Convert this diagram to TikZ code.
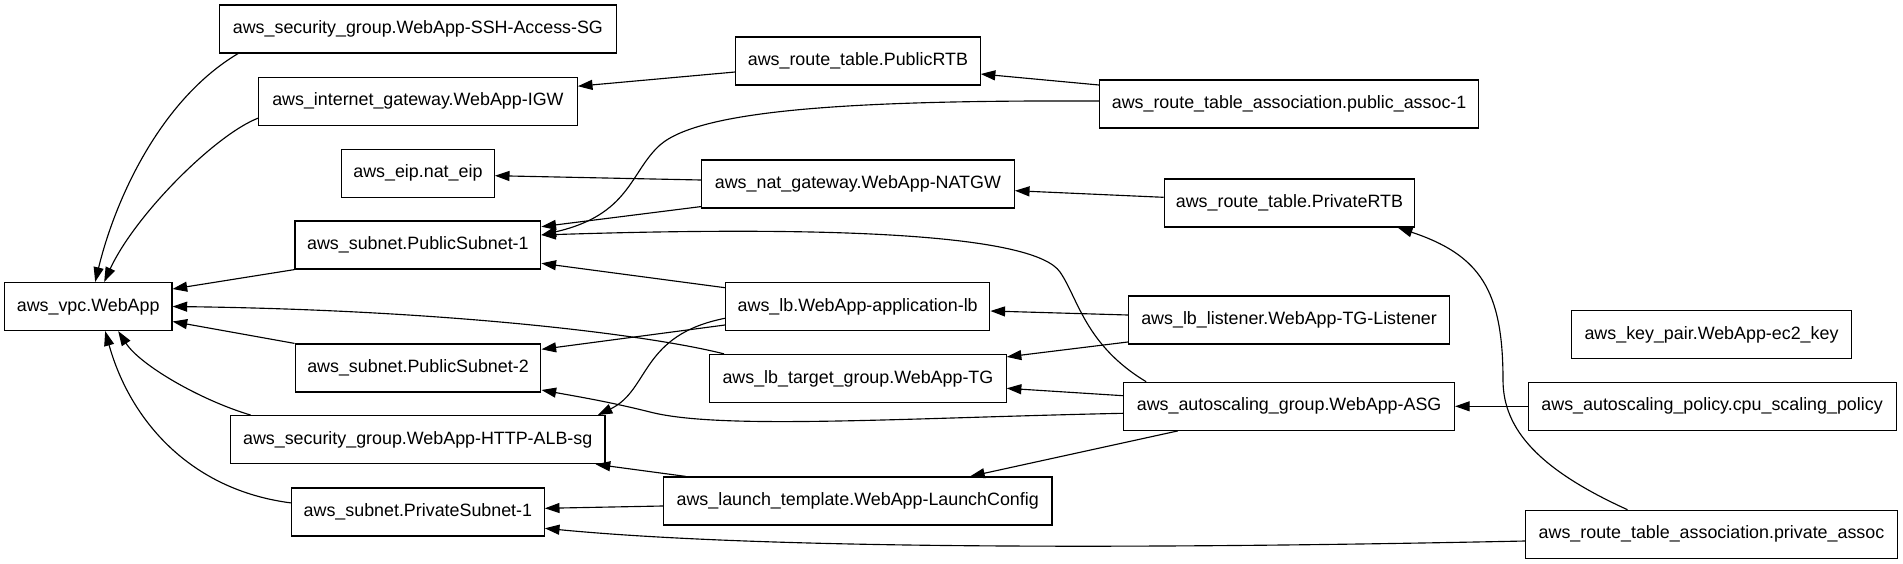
\documentclass[tikz,border=0pt]{standalone}
\usepackage{fontspec}
\setmainfont{Liberation Sans}
\usetikzlibrary{arrows.meta}

\begin{document}
\begin{tikzpicture}[x=0.75pt,y=-0.75pt,>={Triangle[length=11pt,width=7.5pt]},
  res/.style={draw,line width=0.9pt,minimum height=36pt,inner sep=0pt,font=\fontsize{13.4}{16}\selectfont},
  dep/.style={->,line width=0.85pt}]
\useasboundingbox (0,0) rectangle (1903,564);
\node (vpc) [res,minimum width=125.6pt] at (88.2,306.5) {aws\_vpc.WebApp};
\node (sshsg) [res,minimum width=297.4pt] at (417.9,29) {aws\_security\_group.WebApp-SSH-Access-SG};
\node (igw) [res,minimum width=239pt] at (417.9,101.2) {aws\_internet\_gateway.WebApp-IGW};
\node (eip) [res,minimum width=114.5pt] at (417.9,173.3) {aws\_eip.nat\_eip};
\node (pub1) [res,minimum width=184.3pt] at (417.9,245) {aws\_subnet.PublicSubnet-1};
\node (pub2) [res,minimum width=184.3pt] at (418,368) {aws\_subnet.PublicSubnet-2};
\node (albsg) [res,minimum width=281pt] at (417.7,439.7) {aws\_security\_group.WebApp-HTTP-ALB-sg};
\node (priv1) [res,minimum width=189.5pt] at (417.9,511.9) {aws\_subnet.PrivateSubnet-1};
\node (pubrtb) [res,minimum width=183.3pt] at (857.9,61) {aws\_route\_table.PublicRTB};
\node (natgw) [res,minimum width=234.6pt] at (857.9,184) {aws\_nat\_gateway.WebApp-NATGW};
\node (applb) [res,minimum width=198.2pt] at (857.7,306.5) {aws\_lb.WebApp-application-lb};
\node (tg) [res,minimum width=222.3pt] at (857.9,378.5) {aws\_lb\_target\_group.WebApp-TG};
\node (launch) [res,minimum width=291.5pt] at (857.7,501) {aws\_launch\_template.WebApp-LaunchConfig};
\node (pubassoc) [res,minimum width=284.3pt] at (1289.1,104) {aws\_route\_table\_association.public\_assoc-1};
\node (privrtb) [res,minimum width=187.9pt] at (1289.4,203) {aws\_route\_table.PrivateRTB};
\node (listener) [res,minimum width=241pt] at (1289.1,320) {aws\_lb\_listener.WebApp-TG-Listener};
\node (asg) [res,minimum width=248pt] at (1289.1,406.3) {aws\_autoscaling\_group.WebApp-ASG};
\node (keypair) [res,minimum width=209.5pt] at (1711.5,334.7) {aws\_key\_pair.WebApp-ec2\_key};
\node (cpu) [res,minimum width=276pt] at (1712.1,406.3) {aws\_autoscaling\_policy.cpu\_scaling\_policy};
\node (privassoc) [res,minimum width=278.6pt] at (1711.5,534.3) {aws\_route\_table\_association.private\_assoc};

\draw[dep] ([shift={(19,0)}]sshsg.south west) .. controls (160,100) and (115,200) .. ([shift={(7,0)}]vpc.north);
\draw[dep] ([shift={(0,17)}]igw.west) .. controls (215,135) and (135,215) .. ([shift={(16,0)}]vpc.north);
\draw[dep] (pub1.south west) -- ([shift={(0,-17.5)}]vpc.east);
\draw[dep] (pub2.north west) -- ([shift={(0,15)}]vpc.east);
\draw[dep] ([shift={(15,0)}]tg.north west) .. controls (650,335) and (450,310) .. (vpc.east);
\draw[dep] ([shift={(21,0)}]albsg.north west) .. controls (200,400) and (140,365) .. ([shift={(30,0)}]vpc.south);
\draw[dep] ([shift={(0,-9)}]priv1.west) .. controls (190,490) and (130,420) .. ([shift={(17,0)}]vpc.south);
\draw[dep] ([shift={(0,11)}]pubrtb.west) -- ([shift={(0,-15)}]igw.east);
\draw[dep] ([shift={(0,-19)}]pubassoc.west) -- ([shift={(0,13)}]pubrtb.east);
\draw[dep] ([shift={(0,-3)}]pubassoc.west) .. controls (850,100) and (700,110) .. (660,145) .. controls (630,172) and (630,215) .. ([shift={(0,-10)}]pub1.east);
\draw[dep] ([shift={(0,-4)}]natgw.west) -- ([shift={(0,2.4)}]eip.east);
\draw[dep] ([shift={(0,-2)}]natgw.south west) -- ([shift={(0,-18.3)}]pub1.east);
\draw[dep] ([shift={(0,-5.7)}]privrtb.west) -- ([shift={(0,6.7)}]natgw.east);
\draw[dep] ([shift={(-84,0)}]privassoc.north) .. controls (1540,470) and (1503,430) .. (1503,380) .. controls (1503,290) and (1480,255) .. ([shift={(-17.5,0)}]privrtb.south east);
\draw[dep] ([shift={(0,6.7)}]privassoc.west) .. controls (1100,550) and (750,548) .. ([shift={(0,16.4)}]priv1.east);
\draw[dep] ([shift={(0,-18.8)}]applb.west) -- ([shift={(0,18.3)}]pub1.east);
\draw[dep] ([shift={(0,18.5)}]applb.west) -- ([shift={(0,-18.7)}]pub2.east);
\draw[dep] ([shift={(0,11.8)}]applb.west) .. controls (640,335) and (650,390) .. ([shift={(-8,0)}]albsg.north east);
\draw[dep] ([shift={(0,-5)}]listener.west) -- ([shift={(0,4.5)}]applb.east);
\draw[dep] ([shift={(0,-2.6)}]listener.south west) -- ([shift={(0,3)}]tg.north east);
\draw[dep] ([shift={(0,-10.6)}]asg.west) -- ([shift={(0,9.8)}]tg.east);
\draw[dep] ([shift={(0,7)}]asg.west) .. controls (900,418) and (720,430) .. (650,412) .. controls (610,402) and (580,397) .. ([shift={(0,22)}]pub2.east);
\draw[dep] ([shift={(23,0)}]asg.north west) .. controls (1085,345) and (1078,298) .. (1060,272) .. controls (1035,236) and (850,225) .. ([shift={(0,-10)}]pub1.east);
\draw[dep] ([shift={(54.7,0)}]asg.south west) -- ([shift={(-82.6,0)}]launch.north east);
\draw[dep] (cpu) -- (asg);
\draw[dep] ([shift={(23,0)}]launch.north west) -- ([shift={(-10,0)}]albsg.south east);
\draw[dep] ([shift={(0,5)}]launch.west) -- ([shift={(0,-3.6)}]priv1.east);
\end{tikzpicture}
\end{document}
